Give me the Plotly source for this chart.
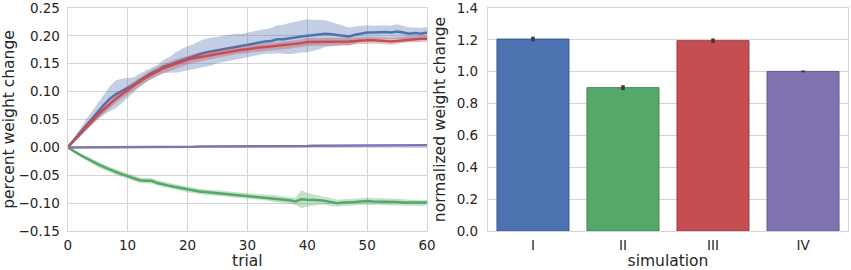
import plotly.graph_objects as go

trials = list(range(61))

blue_mean = [0, .013, .026, .039, .052, .065, .076, .087, .095, .101, .107, .112, .120, .127, .133, .138, .145, .148, .152, .156,
             .160, .163, .167, .170, .172, .175, .177, .179, .181, .182, .184, .186, .188, .190, .191, .194, .194, .195, .197, .199,
             .200, .201, .202, .204, .203, .202, .201, .199, .202, .204, .206, .206, .207, .207, .206, .208, .206, .204, .205, .204, .206]
blue_ci = [0, .004, .008, .010, .012, .015, .018, .022, .025, .022, .018, .014, .012, .010, .010, .010, .012, .014, .018, .020,
           .022, .022, .024, .025, .025, .024, .024, .024, .023, .022, .022, .022, .022, .022, .023, .025, .026, .028, .028, .029,
           .030, .028, .026, .024, .022, .020, .018, .016, .015, .014, .013, .012, .012, .012, .012, .013, .012, .011, .010, .010, .010]

green_mean = [0, -.007, -.013, -.019, -.025, -.030, -.035, -.040, -.044, -.048, -.052, -.055, -.059, -.060, -.060, -.064, -.067, -.069, -.071, -.073,
              -.076, -.077, -.079, -.080, -.081, -.082, -.083, -.084, -.086, -.087, -.088, -.089, -.089, -.090, -.091, -.093, -.094, -.095, -.097, -.093,
              -.094, -.094, -.095, -.096, -.098, -.100, -.099, -.099, -.098, -.097, -.096, -.097, -.097, -.098, -.098, -.098, -.099, -.099, -.100, -.100, -.099]
green_ci = [0, .002, .003, .004, .004, .005, .005, .005, .005, .005, .005, .005, .005, .005, .005, .005, .005, .005, .005, .005,
            .005, .005, .005, .005, .005, .005, .005, .005, .005, .005, .005, .005, .005, .005, .006, .006, .006, .006, .006, .016,
            .012, .010, .008, .007, .007, .006, .006, .006, .006, .006, .006, .006, .006, .006, .006, .006, .006, .005, .005, .005, .005]

red_mean = [0, .012, .024, .036, .047, .058, .068, .078, .087, .095, .103, .110, .118, .125, .131, .137, .142, .146, .150, .153,
            .157, .160, .162, .164, .166, .168, .170, .172, .174, .175, .176, .178, .179, .180, .181, .182, .183, .184, .185, .187,
            .189, .189, .189, .189, .189, .189, .190, .190, .191, .192, .192, .192, .192, .191, .190, .191, .193, .194, .195, .195, .195]
red_ci = [0, .003, .005, .006, .007, .007, .008, .008, .008, .008, .008, .008, .008, .008, .008, .008, .008, .008, .008, .008,
          .008, .008, .008, .008, .008, .008, .007, .007, .007, .007, .007, .007, .007, .007, .007, .007, .007, .007, .007, .007,
          .007, .007, .007, .007, .007, .007, .007, .007, .006, .006, .006, .006, .006, .006, .006, .006, .006, .006, .006, .006, .006]

purple_mean = [0, 0, 0, 0, 0, 0, 0, 0, 0, 0, .0005, .0005, .0005, .0005, .0005, .001, .001, .001, .001, .001,
               .001, .001, .0015, .0015, .0015, .0015, .0015, .0015, .002, .002, .002, .002, .002, .002, .002, .002, .0025, .0025, .0025, .0025,
               .0025, .003, .003, .003, .003, .003, .003, .003, .003, .003, .003, .0035, .0035, .0035, .0035, .0035, .004, .004, .004, .004, .004]
purple_ci = [0] + [.001] * 60

simulations = ["I", "II", "III", "IV"]
norm_change = [1.205, 0.900, 1.195, 1.002]
norm_err = [0.015, 0.015, 0.014, 0.006]

colors = ["#4C72B0", "#55A868", "#C44E52", "#8172B2"]
fills = ["rgba(76,114,176,0.35)", "rgba(85,168,104,0.35)", "rgba(196,78,82,0.35)", "rgba(129,114,178,0.35)"]
edges = ["#3d5b8d", "#448653", "#9d3e42", "#675b8e"]

fig = go.Figure()
series = [(blue_mean, blue_ci), (green_mean, green_ci), (red_mean, red_ci), (purple_mean, purple_ci)]
for (m, ci), c, f in zip(series, colors, fills):
    hi = [a + b for a, b in zip(m, ci)]
    lo = [a - b for a, b in zip(m, ci)]
    fig.add_trace(go.Scatter(x=trials + trials[::-1], y=hi + lo[::-1], fill="toself", fillcolor=f,
                             line=dict(width=0), mode="lines", hoverinfo="skip", showlegend=False,
                             xaxis="x", yaxis="y"))
    fig.add_trace(go.Scatter(x=trials, y=m, mode="lines", line=dict(color=c, width=2.5),
                             showlegend=False, xaxis="x", yaxis="y"))

fig.add_trace(go.Bar(x=simulations, y=norm_change, marker=dict(color=colors, line=dict(color=edges, width=1)),
                     width=0.8, error_y=dict(type="data", array=norm_err, color="#3a3a3a", thickness=3.5, width=0),
                     showlegend=False, xaxis="x2", yaxis="y2"))

txt = "#262626"
grid = "#d5d5d5"
tickfont = dict(family="DejaVu Sans", size=13.5, color=txt)
titlefont = dict(family="DejaVu Sans", size=15.5, color=txt)

common = dict(showline=True, mirror=True, linecolor=grid, linewidth=1.2, zeroline=False, ticks="",
              tickfont=tickfont, automargin=False, gridcolor=grid, gridwidth=1.3,
              ticklabeloverflow="allow")

fig.update_layout(
    width=851, height=270, margin=dict(l=0, r=0, t=0, b=0),
    paper_bgcolor="white", plot_bgcolor="white",
    xaxis=dict(domain=[0.0796, 0.5018], range=[0, 60], dtick=10, showgrid=True,
               ticklabelstandoff=2,
               title=dict(text="trial", font=titlefont, standoff=4), **common),
    yaxis=dict(domain=[0.1444, 0.9704], range=[-0.15, 0.25], dtick=0.05, tickformat=".2f", showgrid=True,
               ticklabelstandoff=4,
               title=dict(text="percent weight change", font=titlefont, standoff=5), **common),
    xaxis2=dict(domain=[0.5734, 0.9965], range=[-0.5, 3.5], showgrid=False, anchor="y2",
                ticklabelstandoff=2,
                title=dict(text="simulation", font=titlefont, standoff=4), **common),
    yaxis2=dict(domain=[0.1444, 0.9704], range=[0, 1.4], dtick=0.2, tickformat=".1f", showgrid=True,
                anchor="x2", ticklabelstandoff=6,
                title=dict(text="normalized weight change", font=titlefont, standoff=7), **common),
)

fig.write_html("out.html", config={"displayModeBar": False},
               post_script="document.body.style.margin='0';document.body.style.padding='0';document.body.style.overflow='hidden';")
